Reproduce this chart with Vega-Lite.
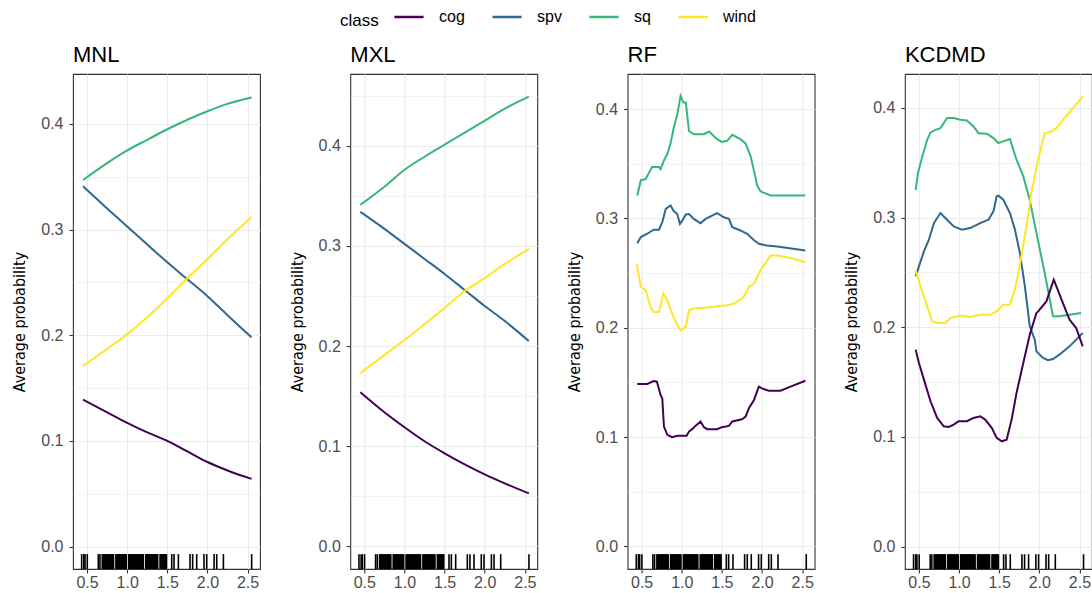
{
  "$schema": "https://vega.github.io/schema/vega-lite/v6.json",
  "background": "white",
  "padding": {"left": 11, "top": 1, "right": 0, "bottom": 2},
  "datasets": {
    "curves": [
      {"model":"MNL","class":"sq","x":0.45,"p":0.347},{"model":"MNL","class":"sq","x":0.75,"p":0.363},{"model":"MNL","class":"sq","x":1.0,"p":0.375},{"model":"MNL","class":"sq","x":1.25,"p":0.385},{"model":"MNL","class":"sq","x":1.5,"p":0.395},{"model":"MNL","class":"sq","x":1.75,"p":0.404},{"model":"MNL","class":"sq","x":2.0,"p":0.412},{"model":"MNL","class":"sq","x":2.25,"p":0.419},{"model":"MNL","class":"sq","x":2.55,"p":0.425},
      {"model":"MNL","class":"spv","x":0.45,"p":0.341},{"model":"MNL","class":"spv","x":0.75,"p":0.320},{"model":"MNL","class":"spv","x":1.0,"p":0.303},{"model":"MNL","class":"spv","x":1.25,"p":0.286},{"model":"MNL","class":"spv","x":1.5,"p":0.269},{"model":"MNL","class":"spv","x":1.75,"p":0.253},{"model":"MNL","class":"spv","x":2.0,"p":0.237},{"model":"MNL","class":"spv","x":2.25,"p":0.219},{"model":"MNL","class":"spv","x":2.55,"p":0.198},
      {"model":"MNL","class":"wind","x":0.45,"p":0.171},{"model":"MNL","class":"wind","x":0.75,"p":0.187},{"model":"MNL","class":"wind","x":1.0,"p":0.201},{"model":"MNL","class":"wind","x":1.25,"p":0.217},{"model":"MNL","class":"wind","x":1.5,"p":0.235},{"model":"MNL","class":"wind","x":1.75,"p":0.254},{"model":"MNL","class":"wind","x":2.0,"p":0.272},{"model":"MNL","class":"wind","x":2.25,"p":0.291},{"model":"MNL","class":"wind","x":2.55,"p":0.312},
      {"model":"MNL","class":"cog","x":0.45,"p":0.139},{"model":"MNL","class":"cog","x":0.75,"p":0.127},{"model":"MNL","class":"cog","x":1.0,"p":0.117},{"model":"MNL","class":"cog","x":1.25,"p":0.108},{"model":"MNL","class":"cog","x":1.5,"p":0.100},{"model":"MNL","class":"cog","x":1.75,"p":0.090},{"model":"MNL","class":"cog","x":2.0,"p":0.080},{"model":"MNL","class":"cog","x":2.25,"p":0.072},{"model":"MNL","class":"cog","x":2.55,"p":0.064},

      {"model":"MXL","class":"sq","x":0.45,"p":0.341},{"model":"MXL","class":"sq","x":0.75,"p":0.359},{"model":"MXL","class":"sq","x":1.0,"p":0.376},{"model":"MXL","class":"sq","x":1.25,"p":0.389},{"model":"MXL","class":"sq","x":1.5,"p":0.401},{"model":"MXL","class":"sq","x":1.75,"p":0.413},{"model":"MXL","class":"sq","x":2.0,"p":0.425},{"model":"MXL","class":"sq","x":2.25,"p":0.437},{"model":"MXL","class":"sq","x":2.55,"p":0.449},
      {"model":"MXL","class":"spv","x":0.45,"p":0.334},{"model":"MXL","class":"spv","x":0.75,"p":0.317},{"model":"MXL","class":"spv","x":1.0,"p":0.302},{"model":"MXL","class":"spv","x":1.25,"p":0.287},{"model":"MXL","class":"spv","x":1.5,"p":0.272},{"model":"MXL","class":"spv","x":1.75,"p":0.256},{"model":"MXL","class":"spv","x":2.0,"p":0.240},{"model":"MXL","class":"spv","x":2.25,"p":0.225},{"model":"MXL","class":"spv","x":2.55,"p":0.205},
      {"model":"MXL","class":"wind","x":0.45,"p":0.173},{"model":"MXL","class":"wind","x":0.75,"p":0.191},{"model":"MXL","class":"wind","x":1.0,"p":0.206},{"model":"MXL","class":"wind","x":1.25,"p":0.222},{"model":"MXL","class":"wind","x":1.5,"p":0.238},{"model":"MXL","class":"wind","x":1.75,"p":0.255},{"model":"MXL","class":"wind","x":2.0,"p":0.268},{"model":"MXL","class":"wind","x":2.25,"p":0.282},{"model":"MXL","class":"wind","x":2.55,"p":0.297},
      {"model":"MXL","class":"cog","x":0.45,"p":0.154},{"model":"MXL","class":"cog","x":0.75,"p":0.134},{"model":"MXL","class":"cog","x":1.0,"p":0.119},{"model":"MXL","class":"cog","x":1.25,"p":0.105},{"model":"MXL","class":"cog","x":1.5,"p":0.093},{"model":"MXL","class":"cog","x":1.75,"p":0.082},{"model":"MXL","class":"cog","x":2.0,"p":0.072},{"model":"MXL","class":"cog","x":2.25,"p":0.063},{"model":"MXL","class":"cog","x":2.55,"p":0.053},

      {"model":"RF","class":"sq","x":0.446,"p":0.321},{"model":"RF","class":"sq","x":0.49,"p":0.335},{"model":"RF","class":"sq","x":0.55,"p":0.336},{"model":"RF","class":"sq","x":0.63,"p":0.347},{"model":"RF","class":"sq","x":0.716,"p":0.347},{"model":"RF","class":"sq","x":0.736,"p":0.345},{"model":"RF","class":"sq","x":0.778,"p":0.353},{"model":"RF","class":"sq","x":0.82,"p":0.359},{"model":"RF","class":"sq","x":0.861,"p":0.369},{"model":"RF","class":"sq","x":0.90,"p":0.383},{"model":"RF","class":"sq","x":0.944,"p":0.395},{"model":"RF","class":"sq","x":0.985,"p":0.412},{"model":"RF","class":"sq","x":1.02,"p":0.406},{"model":"RF","class":"sq","x":1.05,"p":0.406},{"model":"RF","class":"sq","x":1.09,"p":0.380},{"model":"RF","class":"sq","x":1.15,"p":0.377},{"model":"RF","class":"sq","x":1.276,"p":0.377},{"model":"RF","class":"sq","x":1.34,"p":0.3795},{"model":"RF","class":"sq","x":1.44,"p":0.3725},{"model":"RF","class":"sq","x":1.50,"p":0.370},{"model":"RF","class":"sq","x":1.566,"p":0.371},{"model":"RF","class":"sq","x":1.63,"p":0.3765},{"model":"RF","class":"sq","x":1.73,"p":0.3725},{"model":"RF","class":"sq","x":1.795,"p":0.3686},{"model":"RF","class":"sq","x":1.857,"p":0.357},{"model":"RF","class":"sq","x":1.90,"p":0.3437},{"model":"RF","class":"sq","x":1.94,"p":0.330},{"model":"RF","class":"sq","x":1.98,"p":0.3248},{"model":"RF","class":"sq","x":2.106,"p":0.321},{"model":"RF","class":"sq","x":2.54,"p":0.321},
      {"model":"RF","class":"spv","x":0.446,"p":0.2774},{"model":"RF","class":"spv","x":0.49,"p":0.283},{"model":"RF","class":"spv","x":0.57,"p":0.286},{"model":"RF","class":"spv","x":0.65,"p":0.2897},{"model":"RF","class":"spv","x":0.716,"p":0.2897},{"model":"RF","class":"spv","x":0.757,"p":0.2966},{"model":"RF","class":"spv","x":0.80,"p":0.3087},{"model":"RF","class":"spv","x":0.861,"p":0.3118},{"model":"RF","class":"spv","x":0.90,"p":0.3067},{"model":"RF","class":"spv","x":0.944,"p":0.304},{"model":"RF","class":"spv","x":0.977,"p":0.295},{"model":"RF","class":"spv","x":1.006,"p":0.298},{"model":"RF","class":"spv","x":1.05,"p":0.3036},{"model":"RF","class":"spv","x":1.09,"p":0.304},{"model":"RF","class":"spv","x":1.15,"p":0.2996},{"model":"RF","class":"spv","x":1.234,"p":0.2957},{"model":"RF","class":"spv","x":1.297,"p":0.2996},{"model":"RF","class":"spv","x":1.44,"p":0.3048},{"model":"RF","class":"spv","x":1.525,"p":0.3011},{"model":"RF","class":"spv","x":1.587,"p":0.2996},{"model":"RF","class":"spv","x":1.63,"p":0.292},{"model":"RF","class":"spv","x":1.73,"p":0.289},{"model":"RF","class":"spv","x":1.815,"p":0.286},{"model":"RF","class":"spv","x":1.90,"p":0.280},{"model":"RF","class":"spv","x":1.96,"p":0.2768},{"model":"RF","class":"spv","x":2.06,"p":0.2753},{"model":"RF","class":"spv","x":2.19,"p":0.2744},{"model":"RF","class":"spv","x":2.54,"p":0.2707},
      {"model":"RF","class":"wind","x":0.44,"p":0.258},{"model":"RF","class":"wind","x":0.49,"p":0.2373},{"model":"RF","class":"wind","x":0.55,"p":0.2343},{"model":"RF","class":"wind","x":0.61,"p":0.2191},{"model":"RF","class":"wind","x":0.65,"p":0.2145},{"model":"RF","class":"wind","x":0.716,"p":0.2145},{"model":"RF","class":"wind","x":0.77,"p":0.2312},{"model":"RF","class":"wind","x":0.82,"p":0.2252},{"model":"RF","class":"wind","x":0.88,"p":0.2130},{"model":"RF","class":"wind","x":0.944,"p":0.2024},{"model":"RF","class":"wind","x":0.985,"p":0.1975},{"model":"RF","class":"wind","x":1.05,"p":0.2008},{"model":"RF","class":"wind","x":1.09,"p":0.216},{"model":"RF","class":"wind","x":1.15,"p":0.2176},{"model":"RF","class":"wind","x":1.317,"p":0.2185},{"model":"RF","class":"wind","x":1.44,"p":0.2197},{"model":"RF","class":"wind","x":1.566,"p":0.2206},{"model":"RF","class":"wind","x":1.65,"p":0.2221},{"model":"RF","class":"wind","x":1.77,"p":0.2282},{"model":"RF","class":"wind","x":1.836,"p":0.2373},{"model":"RF","class":"wind","x":1.90,"p":0.2403},{"model":"RF","class":"wind","x":1.98,"p":0.2525},{"model":"RF","class":"wind","x":2.106,"p":0.266},{"model":"RF","class":"wind","x":2.19,"p":0.266},{"model":"RF","class":"wind","x":2.396,"p":0.2631},{"model":"RF","class":"wind","x":2.54,"p":0.260},
      {"model":"RF","class":"cog","x":0.446,"p":0.1486},{"model":"RF","class":"cog","x":0.57,"p":0.1486},{"model":"RF","class":"cog","x":0.65,"p":0.1513},{"model":"RF","class":"cog","x":0.69,"p":0.1507},{"model":"RF","class":"cog","x":0.736,"p":0.1386},{"model":"RF","class":"cog","x":0.757,"p":0.1355},{"model":"RF","class":"cog","x":0.778,"p":0.1097},{"model":"RF","class":"cog","x":0.82,"p":0.1021},{"model":"RF","class":"cog","x":0.88,"p":0.1000},{"model":"RF","class":"cog","x":0.944,"p":0.1012},{"model":"RF","class":"cog","x":1.006,"p":0.1012},{"model":"RF","class":"cog","x":1.06,"p":0.1012},{"model":"RF","class":"cog","x":1.09,"p":0.1051},{"model":"RF","class":"cog","x":1.13,"p":0.1073},{"model":"RF","class":"cog","x":1.17,"p":0.1103},{"model":"RF","class":"cog","x":1.234,"p":0.1143},{"model":"RF","class":"cog","x":1.276,"p":0.1091},{"model":"RF","class":"cog","x":1.317,"p":0.1073},{"model":"RF","class":"cog","x":1.44,"p":0.1073},{"model":"RF","class":"cog","x":1.50,"p":0.1091},{"model":"RF","class":"cog","x":1.587,"p":0.1103},{"model":"RF","class":"cog","x":1.63,"p":0.1143},{"model":"RF","class":"cog","x":1.75,"p":0.1164},{"model":"RF","class":"cog","x":1.795,"p":0.1188},{"model":"RF","class":"cog","x":1.836,"p":0.1264},{"model":"RF","class":"cog","x":1.90,"p":0.134},{"model":"RF","class":"cog","x":1.96,"p":0.1462},{"model":"RF","class":"cog","x":2.0,"p":0.1446},{"model":"RF","class":"cog","x":2.085,"p":0.1425},{"model":"RF","class":"cog","x":2.23,"p":0.1425},{"model":"RF","class":"cog","x":2.355,"p":0.1462},{"model":"RF","class":"cog","x":2.54,"p":0.1516},

      {"model":"KCDMD","class":"sq","x":0.459,"p":0.3254},{"model":"KCDMD","class":"sq","x":0.488,"p":0.3406},{"model":"KCDMD","class":"sq","x":0.541,"p":0.3558},{"model":"KCDMD","class":"sq","x":0.603,"p":0.371},{"model":"KCDMD","class":"sq","x":0.644,"p":0.3777},{"model":"KCDMD","class":"sq","x":0.706,"p":0.380},{"model":"KCDMD","class":"sq","x":0.768,"p":0.3816},{"model":"KCDMD","class":"sq","x":0.85,"p":0.3908},{"model":"KCDMD","class":"sq","x":0.933,"p":0.3908},{"model":"KCDMD","class":"sq","x":1.015,"p":0.3892},{"model":"KCDMD","class":"sq","x":1.098,"p":0.3886},{"model":"KCDMD","class":"sq","x":1.18,"p":0.3832},{"model":"KCDMD","class":"sq","x":1.242,"p":0.377},{"model":"KCDMD","class":"sq","x":1.345,"p":0.3765},{"model":"KCDMD","class":"sq","x":1.428,"p":0.3725},{"model":"KCDMD","class":"sq","x":1.49,"p":0.368},{"model":"KCDMD","class":"sq","x":1.55,"p":0.3695},{"model":"KCDMD","class":"sq","x":1.634,"p":0.3716},{"model":"KCDMD","class":"sq","x":1.716,"p":0.3528},{"model":"KCDMD","class":"sq","x":1.80,"p":0.3376},{"model":"KCDMD","class":"sq","x":1.88,"p":0.3163},{"model":"KCDMD","class":"sq","x":1.964,"p":0.2859},{"model":"KCDMD","class":"sq","x":2.067,"p":0.2495},{"model":"KCDMD","class":"sq","x":2.17,"p":0.210},{"model":"KCDMD","class":"sq","x":2.25,"p":0.210},{"model":"KCDMD","class":"sq","x":2.52,"p":0.213},
      {"model":"KCDMD","class":"spv","x":0.459,"p":0.2464},{"model":"KCDMD","class":"spv","x":0.50,"p":0.2555},{"model":"KCDMD","class":"spv","x":0.562,"p":0.2692},{"model":"KCDMD","class":"spv","x":0.624,"p":0.2798},{"model":"KCDMD","class":"spv","x":0.686,"p":0.295},{"model":"KCDMD","class":"spv","x":0.768,"p":0.3042},{"model":"KCDMD","class":"spv","x":0.85,"p":0.2981},{"model":"KCDMD","class":"spv","x":0.933,"p":0.292},{"model":"KCDMD","class":"spv","x":1.036,"p":0.289},{"model":"KCDMD","class":"spv","x":1.139,"p":0.2905},{"model":"KCDMD","class":"spv","x":1.263,"p":0.295},{"model":"KCDMD","class":"spv","x":1.366,"p":0.2981},{"model":"KCDMD","class":"spv","x":1.428,"p":0.3057},{"model":"KCDMD","class":"spv","x":1.469,"p":0.3194},{"model":"KCDMD","class":"spv","x":1.49,"p":0.320},{"model":"KCDMD","class":"spv","x":1.551,"p":0.3163},{"model":"KCDMD","class":"spv","x":1.634,"p":0.3042},{"model":"KCDMD","class":"spv","x":1.696,"p":0.289},{"model":"KCDMD","class":"spv","x":1.758,"p":0.2677},{"model":"KCDMD","class":"spv","x":1.82,"p":0.2373},{"model":"KCDMD","class":"spv","x":1.881,"p":0.2008},{"model":"KCDMD","class":"spv","x":1.943,"p":0.1887},{"model":"KCDMD","class":"spv","x":1.964,"p":0.178},{"model":"KCDMD","class":"spv","x":2.046,"p":0.172},{"model":"KCDMD","class":"spv","x":2.108,"p":0.170},{"model":"KCDMD","class":"spv","x":2.17,"p":0.171},{"model":"KCDMD","class":"spv","x":2.25,"p":0.175},{"model":"KCDMD","class":"spv","x":2.376,"p":0.1826},{"model":"KCDMD","class":"spv","x":2.541,"p":0.1948},
      {"model":"KCDMD","class":"wind","x":0.459,"p":0.2519},{"model":"KCDMD","class":"wind","x":0.52,"p":0.2373},{"model":"KCDMD","class":"wind","x":0.603,"p":0.2191},{"model":"KCDMD","class":"wind","x":0.665,"p":0.2054},{"model":"KCDMD","class":"wind","x":0.727,"p":0.2039},{"model":"KCDMD","class":"wind","x":0.83,"p":0.2039},{"model":"KCDMD","class":"wind","x":0.892,"p":0.2084},{"model":"KCDMD","class":"wind","x":1.015,"p":0.2106},{"model":"KCDMD","class":"wind","x":1.139,"p":0.2094},{"model":"KCDMD","class":"wind","x":1.263,"p":0.2115},{"model":"KCDMD","class":"wind","x":1.387,"p":0.2115},{"model":"KCDMD","class":"wind","x":1.469,"p":0.2145},{"model":"KCDMD","class":"wind","x":1.55,"p":0.2206},{"model":"KCDMD","class":"wind","x":1.634,"p":0.2206},{"model":"KCDMD","class":"wind","x":1.696,"p":0.2343},{"model":"KCDMD","class":"wind","x":1.758,"p":0.2571},{"model":"KCDMD","class":"wind","x":1.84,"p":0.292},{"model":"KCDMD","class":"wind","x":1.90,"p":0.3224},{"model":"KCDMD","class":"wind","x":1.985,"p":0.3528},{"model":"KCDMD","class":"wind","x":2.067,"p":0.3771},{"model":"KCDMD","class":"wind","x":2.15,"p":0.3786},{"model":"KCDMD","class":"wind","x":2.211,"p":0.3816},{"model":"KCDMD","class":"wind","x":2.294,"p":0.3892},{"model":"KCDMD","class":"wind","x":2.418,"p":0.3999},{"model":"KCDMD","class":"wind","x":2.541,"p":0.4105},
      {"model":"KCDMD","class":"cog","x":0.459,"p":0.1796},{"model":"KCDMD","class":"cog","x":0.50,"p":0.1674},{"model":"KCDMD","class":"cog","x":0.562,"p":0.1522},{"model":"KCDMD","class":"cog","x":0.644,"p":0.1325},{"model":"KCDMD","class":"cog","x":0.727,"p":0.1173},{"model":"KCDMD","class":"cog","x":0.809,"p":0.1097},{"model":"KCDMD","class":"cog","x":0.871,"p":0.1091},{"model":"KCDMD","class":"cog","x":0.933,"p":0.1112},{"model":"KCDMD","class":"cog","x":0.995,"p":0.1143},{"model":"KCDMD","class":"cog","x":1.098,"p":0.1143},{"model":"KCDMD","class":"cog","x":1.18,"p":0.1173},{"model":"KCDMD","class":"cog","x":1.263,"p":0.1188},{"model":"KCDMD","class":"cog","x":1.325,"p":0.1158},{"model":"KCDMD","class":"cog","x":1.407,"p":0.1082},{"model":"KCDMD","class":"cog","x":1.469,"p":0.0991},{"model":"KCDMD","class":"cog","x":1.531,"p":0.096},{"model":"KCDMD","class":"cog","x":1.593,"p":0.0975},{"model":"KCDMD","class":"cog","x":1.655,"p":0.1158},{"model":"KCDMD","class":"cog","x":1.716,"p":0.1401},{"model":"KCDMD","class":"cog","x":1.80,"p":0.1674},{"model":"KCDMD","class":"cog","x":1.881,"p":0.1933},{"model":"KCDMD","class":"cog","x":1.964,"p":0.213},{"model":"KCDMD","class":"cog","x":1.985,"p":0.2145},{"model":"KCDMD","class":"cog","x":2.088,"p":0.2236},{"model":"KCDMD","class":"cog","x":2.18,"p":0.2434},{"model":"KCDMD","class":"cog","x":2.294,"p":0.2221},{"model":"KCDMD","class":"cog","x":2.376,"p":0.207},{"model":"KCDMD","class":"cog","x":2.459,"p":0.1993},{"model":"KCDMD","class":"cog","x":2.541,"p":0.1826}
    ],
    "rug": [
      {"x":0.433},{"x":0.46},{"x":0.475},{"x":0.503},{"x":0.64},{"x":0.661},
      {"x":0.69},{"x":0.70},{"x":0.71},{"x":0.72},{"x":0.73},{"x":0.74},{"x":0.75},{"x":0.76},{"x":0.77},{"x":0.78},{"x":0.79},{"x":0.80},{"x":0.81},{"x":0.82},{"x":0.83},
      {"x":0.86},{"x":0.87},{"x":0.88},{"x":0.89},{"x":0.90},{"x":0.91},{"x":0.92},{"x":0.93},{"x":0.94},{"x":0.95},{"x":0.96},{"x":0.97},{"x":0.98},{"x":0.99},
      {"x":1.02},{"x":1.03},{"x":1.04},{"x":1.05},{"x":1.06},{"x":1.07},{"x":1.08},{"x":1.09},{"x":1.10},{"x":1.11},{"x":1.12},{"x":1.13},{"x":1.14},{"x":1.15},{"x":1.16},{"x":1.17},{"x":1.18},{"x":1.19},{"x":1.20},
      {"x":1.23},{"x":1.24},{"x":1.25},{"x":1.26},{"x":1.27},{"x":1.28},{"x":1.29},{"x":1.30},{"x":1.31},{"x":1.32},{"x":1.33},{"x":1.34},{"x":1.35},{"x":1.36},{"x":1.37},{"x":1.38},
      {"x":1.41},{"x":1.42},{"x":1.43},{"x":1.44},{"x":1.45},{"x":1.46},{"x":1.47},{"x":1.48},{"x":1.49},
      {"x":1.555},{"x":1.584},{"x":1.638},{"x":1.783},{"x":1.816},{"x":1.866},{"x":1.957},{"x":1.991},{"x":2.083},{"x":2.116},{"x":2.199},{"x":2.551}
    ]
  },
  "hconcat": [
    {
      "width": 187, "height": 495,
      "title": "MNL",
      "layer": [
        {
          "data": {"name": "curves"},
          "transform": [{"filter": "datum.model === 'MNL'"}],
          "mark": {"type": "line", "strokeWidth": 2, "interpolate": "monotone"},
          "encoding": {
            "x": {"field": "x", "type": "quantitative", "scale": {"domain": [0.325, 2.655], "nice": false, "zero": false},
                  "axis": {"title": null, "values": [0.5,0.75,1,1.25,1.5,1.75,2,2.25,2.5], "labelExpr": "abs(datum.value*2 - round(datum.value*2)) < 0.001 ? format(datum.value, '.1f') : ''",
                           "tickOpacity": {"condition": {"test": "abs(datum.value*2 - round(datum.value*2)) < 0.001", "value": 1}, "value": 0},
                           "gridWidth": {"condition": {"test": "abs(datum.value*2 - round(datum.value*2)) < 0.001", "value": 1.1}, "value": 0.6}}},
            "y": {"field": "p", "type": "quantitative", "scale": {"domain": [-0.0213, 0.4473], "nice": false, "zero": false},
                  "axis": {"title": "Average probability", "values": [0,0.05,0.1,0.15,0.2,0.25,0.3,0.35,0.4],
                           "labelExpr": "abs(datum.value*10 - round(datum.value*10)) < 0.001 ? format(datum.value, '.1f') : ''",
                           "tickOpacity": {"condition": {"test": "abs(datum.value*10 - round(datum.value*10)) < 0.001", "value": 1}, "value": 0},
                           "gridWidth": {"condition": {"test": "abs(datum.value*10 - round(datum.value*10)) < 0.001", "value": 1.1}, "value": 0.6}}},
            "color": {"field": "class", "type": "nominal", "title": "class",
                      "scale": {"domain": ["cog", "spv", "sq", "wind"], "range": ["#440154", "#31688E", "#35B779", "#FDE725"]},
                      "legend": {"orient": "none", "legendX": 267, "legendY": -73, "direction": "horizontal", "titleOrient": "left", "titleBaseline": "top"}}
          }
        },
        {
          "data": {"name": "rug"},
          "mark": {"type": "rule", "color": "black", "strokeWidth": 1.6},
          "encoding": {
            "x": {"field": "x", "type": "quantitative"},
            "y": {"datum": -0.0213},
            "y2": {"datum": -0.0072}
          }
        }
      ]
    },
    {
      "width": 187, "height": 495,
      "title": "MXL",
      "layer": [
        {
          "data": {"name": "curves"},
          "transform": [{"filter": "datum.model === 'MXL'"}],
          "mark": {"type": "line", "strokeWidth": 2, "interpolate": "monotone"},
          "encoding": {
            "x": {"field": "x", "type": "quantitative", "scale": {"domain": [0.325, 2.655], "nice": false, "zero": false},
                  "axis": {"title": null, "values": [0.5,0.75,1,1.25,1.5,1.75,2,2.25,2.5], "labelExpr": "abs(datum.value*2 - round(datum.value*2)) < 0.001 ? format(datum.value, '.1f') : ''",
                           "tickOpacity": {"condition": {"test": "abs(datum.value*2 - round(datum.value*2)) < 0.001", "value": 1}, "value": 0},
                           "gridWidth": {"condition": {"test": "abs(datum.value*2 - round(datum.value*2)) < 0.001", "value": 1.1}, "value": 0.6}}},
            "y": {"field": "p", "type": "quantitative", "scale": {"domain": [-0.0225, 0.4716], "nice": false, "zero": false},
                  "axis": {"title": "Average probability", "values": [0,0.05,0.1,0.15,0.2,0.25,0.3,0.35,0.4,0.45],
                           "labelExpr": "abs(datum.value*10 - round(datum.value*10)) < 0.001 ? format(datum.value, '.1f') : ''",
                           "tickOpacity": {"condition": {"test": "abs(datum.value*10 - round(datum.value*10)) < 0.001", "value": 1}, "value": 0},
                           "gridWidth": {"condition": {"test": "abs(datum.value*10 - round(datum.value*10)) < 0.001", "value": 1.1}, "value": 0.6}}},
            "color": {"field": "class", "type": "nominal", "title": "class"}
          }
        },
        {
          "data": {"name": "rug"},
          "mark": {"type": "rule", "color": "black", "strokeWidth": 1.6},
          "encoding": {
            "x": {"field": "x", "type": "quantitative"},
            "y": {"datum": -0.0225},
            "y2": {"datum": -0.0077}
          }
        }
      ]
    },
    {
      "width": 187, "height": 495,
      "title": "RF",
      "layer": [
        {
          "data": {"name": "curves"},
          "transform": [{"filter": "datum.model === 'RF'"}],
          "mark": {"type": "line", "strokeWidth": 2},
          "encoding": {
            "x": {"field": "x", "type": "quantitative", "scale": {"domain": [0.325, 2.655], "nice": false, "zero": false},
                  "axis": {"title": null, "values": [0.5,0.75,1,1.25,1.5,1.75,2,2.25,2.5], "labelExpr": "abs(datum.value*2 - round(datum.value*2)) < 0.001 ? format(datum.value, '.1f') : ''",
                           "tickOpacity": {"condition": {"test": "abs(datum.value*2 - round(datum.value*2)) < 0.001", "value": 1}, "value": 0},
                           "gridWidth": {"condition": {"test": "abs(datum.value*2 - round(datum.value*2)) < 0.001", "value": 1.1}, "value": 0.6}}},
            "y": {"field": "p", "type": "quantitative", "scale": {"domain": [-0.0206, 0.4321], "nice": false, "zero": false},
                  "axis": {"title": "Average probability", "values": [0,0.05,0.1,0.15,0.2,0.25,0.3,0.35,0.4],
                           "labelExpr": "abs(datum.value*10 - round(datum.value*10)) < 0.001 ? format(datum.value, '.1f') : ''",
                           "tickOpacity": {"condition": {"test": "abs(datum.value*10 - round(datum.value*10)) < 0.001", "value": 1}, "value": 0},
                           "gridWidth": {"condition": {"test": "abs(datum.value*10 - round(datum.value*10)) < 0.001", "value": 1.1}, "value": 0.6}}},
            "color": {"field": "class", "type": "nominal", "title": "class"}
          }
        },
        {
          "data": {"name": "rug"},
          "mark": {"type": "rule", "color": "black", "strokeWidth": 1.6},
          "encoding": {
            "x": {"field": "x", "type": "quantitative"},
            "y": {"datum": -0.0206},
            "y2": {"datum": -0.0070}
          }
        }
      ]
    },
    {
      "width": 187, "height": 495,
      "title": "KCDMD",
      "layer": [
        {
          "data": {"name": "curves"},
          "transform": [{"filter": "datum.model === 'KCDMD'"}],
          "mark": {"type": "line", "strokeWidth": 2},
          "encoding": {
            "x": {"field": "x", "type": "quantitative", "scale": {"domain": [0.325, 2.655], "nice": false, "zero": false},
                  "axis": {"title": null, "values": [0.5,0.75,1,1.25,1.5,1.75,2,2.25,2.5], "labelExpr": "abs(datum.value*2 - round(datum.value*2)) < 0.001 ? format(datum.value, '.1f') : ''",
                           "tickOpacity": {"condition": {"test": "abs(datum.value*2 - round(datum.value*2)) < 0.001", "value": 1}, "value": 0},
                           "gridWidth": {"condition": {"test": "abs(datum.value*2 - round(datum.value*2)) < 0.001", "value": 1.1}, "value": 0.6}}},
            "y": {"field": "p", "type": "quantitative", "scale": {"domain": [-0.0205, 0.431], "nice": false, "zero": false},
                  "axis": {"title": "Average probability", "values": [0,0.05,0.1,0.15,0.2,0.25,0.3,0.35,0.4],
                           "labelExpr": "abs(datum.value*10 - round(datum.value*10)) < 0.001 ? format(datum.value, '.1f') : ''",
                           "tickOpacity": {"condition": {"test": "abs(datum.value*10 - round(datum.value*10)) < 0.001", "value": 1}, "value": 0},
                           "gridWidth": {"condition": {"test": "abs(datum.value*10 - round(datum.value*10)) < 0.001", "value": 1.1}, "value": 0.6}}},
            "color": {"field": "class", "type": "nominal", "title": "class"}
          }
        },
        {
          "data": {"name": "rug"},
          "mark": {"type": "rule", "color": "black", "strokeWidth": 1.6},
          "encoding": {
            "x": {"field": "x", "type": "quantitative"},
            "y": {"datum": -0.0205},
            "y2": {"datum": -0.0070}
          }
        }
      ]
    }
  ],
  "spacing": 90.3,
  "bounds": "flush",
  "config": {
    "view": {"stroke": "#333333", "strokeWidth": 1.1},
    "axis": {
      "domain": false,
      "labelFont": "Liberation Sans", "labelFontSize": 16, "labelColor": "#4D4D4D",
      "labelOverlap": false, "labelFlush": false, "labelPadding": 6,
      "tickColor": "#333333", "tickSize": 4, "tickWidth": 1.1,
      "gridColor": "#EBEBEB",
      "titleFont": "Liberation Sans Narrow, DejaVu Sans Condensed, Liberation Sans",
      "titleFontSize": 16, "titleFontWeight": "normal", "titleColor": "#000000", "titlePadding": 13
    },
    "axisX": {"labelPadding": 1},
    "legend": {
      "titleFont": "Liberation Sans", "titleFontSize": 17, "titleFontWeight": "normal", "titleColor": "#000000",
      "labelFont": "Liberation Sans", "labelFontSize": 16, "labelColor": "#000000",
      "symbolStrokeWidth": 2.5, "symbolSize": 850, "symbolType": "stroke", "columnPadding": 22, "labelOffset": 14, "titlePadding": 14
    },
    "title": {"anchor": "start", "frame": "group", "font": "Liberation Sans", "fontSize": 22, "fontWeight": "normal", "color": "#000000", "offset": 7}
  }
}
